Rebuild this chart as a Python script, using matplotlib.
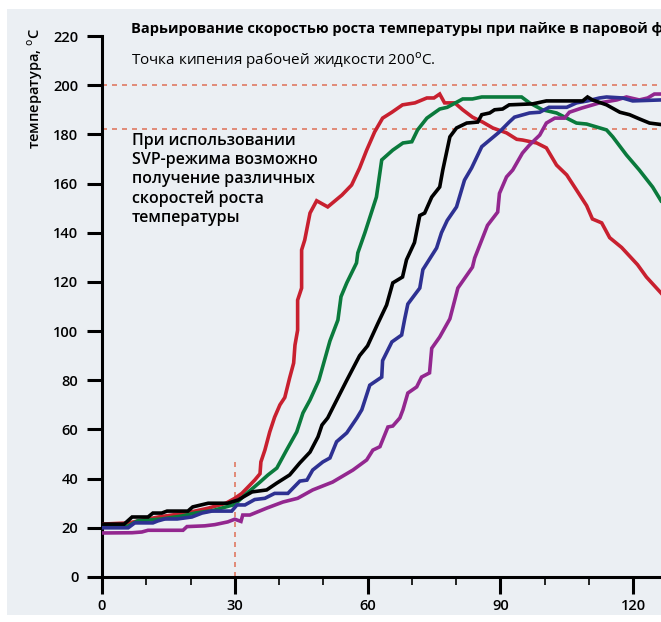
import matplotlib
matplotlib.use("Agg")
import matplotlib.pyplot as plt
from matplotlib.patches import Rectangle

plt.rcParams['font.family'] = ['Open Sans', 'DejaVu Sans']

# time, s / temperature, C
red_x = [0, 6, 13, 19, 24, 28, 30, 31.6, 33, 34.5, 35.7, 35.9, 36.8, 37.9, 39, 40.2, 41.3, 42.4, 43.3,
         43.6, 44.2, 44.2, 45.1, 45.1, 45.8, 47, 48.5, 51, 54.2, 56.4, 58.2, 59.8, 61.6, 63.4, 65.5,
         67.9, 70.7, 73.4, 75, 76.3, 77.4, 79.7, 81.5, 83.7, 86, 88.3, 91.4, 93.7, 95, 98.2, 100.4,
         102.7, 105, 107.2, 109.5, 110.8, 112.9, 114.7, 117.4, 121, 123, 126.3]
red_y = [21.5, 22, 24.5, 26, 28, 30, 32, 34, 36.6, 39.4, 42, 46.8, 51.6, 59, 65, 70, 73, 81, 87,
         94.3, 100.4, 112.6, 117.5, 133, 137, 148, 153, 150.5, 155.3, 159.4, 166.3, 173.6, 181, 186.6, 189,
         192, 192.8, 194.8, 194.8, 196.4, 192.8, 192.8, 190, 187, 185, 182.6, 180.6, 178, 177.7, 176.5, 174.5,
         167.5, 163.5, 157.4, 151, 145.6, 144, 138, 134, 127, 122, 115.5]

green_x = [0, 5.9, 8, 13.5, 18, 21, 25, 30, 32.7, 35.7, 37.5, 39.5, 41.7, 44, 45.4, 47, 49, 51.5,
           53.3, 54, 55.3, 57.5, 57.8, 59.4, 62, 63.2, 65.7, 68, 70, 71.3, 73.4, 76.3, 78, 81.5,
           83.7, 85.8, 94.8, 96.6, 99.5, 102.7, 105, 107.2, 109.5, 114, 115.4, 118.5, 121.4, 124.4, 126.3]
green_y = [20.3, 20.7, 22.8, 23.6, 24.8, 26, 27, 29.5, 34, 38.6, 41.5, 44.3, 51.6, 59, 66.7, 72, 80, 96,
           104.5, 114, 119.6, 127.7, 131.8, 140, 154.5, 169.6, 173.6, 176.5, 177, 181.8, 186.6, 190.3, 191, 194.4,
           194.4, 195.2, 195.2, 192.8, 190, 188.7, 186.6, 184.6, 184.2, 181.8, 179, 171.6, 165.5, 158.6, 153]

black_x = [0, 5, 6.8, 10.4, 11.5, 13.5, 14.7, 19.4, 20.5, 24, 28.4, 30.7, 33.9, 37.2, 39.5, 42.4,
           44.7, 47, 48.8, 49.7, 51, 52.2, 55.3, 58.2, 60, 62.3, 64.3, 65.7, 67.9, 68.8, 70.6, 71.8,
           72.9, 74.5, 76.3, 77, 78.6, 80.1, 82.4, 84.9, 85.8, 87.6, 88.7, 90.5, 92, 97.3, 100.4,
           108.6, 109.7, 110.8, 114, 117, 119.2, 121.4, 123.7, 126.3]
black_y = [21.5, 21.5, 24.4, 24.4, 26, 26, 26.8, 26.8, 28.5, 30, 30, 31.3, 34.6, 35.4, 38.2, 41.5,
           46.4, 50.8, 57, 61.8, 64.7, 69, 80, 90, 94, 103, 110.6, 119.6, 122, 129, 136, 147,
           148, 154.5, 158.6, 165.5, 179, 182.6, 184.6, 185, 188, 188.7, 190, 190.3, 192, 192.4, 193.6,
           193.6, 195.2, 194, 192, 189, 188, 186.3, 184.6, 184]

blue_x = [0, 5.9, 7.4, 11.5, 12.6, 14.2, 17, 20.3, 22.6, 24.8, 29.3, 30.5, 32.3, 34.5, 36.8, 39,
          42, 44.7, 46.3, 47.6, 49.9, 51.5, 53, 55.3, 57.6, 58.7, 60.5, 63.2, 63.4, 65.5, 67.7, 68.4,
          69.1, 71.8, 72.5, 75.6, 76.7, 78, 80.1, 81.9, 83.5, 85.8, 87.6, 89.8, 92, 93.2, 96.6,
          98.9, 101, 105, 107.2, 109.7, 112.4, 114, 117.6, 119.9, 126.3]
blue_y = [20, 20, 22, 22, 22.8, 23.6, 23.6, 24.4, 26, 26.8, 26.8, 29.3, 29.3, 31.5, 32, 34,
          34, 39, 39.4, 43.5, 46.8, 48.4, 55, 58.6, 64.7, 68, 78, 81.3, 88, 95.6, 98.4, 105,
          111, 117.5, 125, 133.8, 140, 145, 150.5, 161.4, 166.3, 175, 177.7, 181, 185, 187, 188.7,
          189, 191, 191, 192.8, 193.6, 194.8, 195.2, 194.8, 193.6, 194]

purple_x = [0, 6.8, 9, 10.4, 18.3, 19.2, 23.2, 25.5, 28.4, 30, 31.4, 31.8, 33.4, 37.2, 40.9, 44.2,
            47.6, 52.1, 56.7, 59.8, 61.2, 62.8, 64.6, 65.7, 67.3, 68, 69.1, 71.1, 72.2, 74, 74.5,
            76.3, 78.6, 79.7, 80.4, 83.7, 84.2, 87.1, 89.4, 89.8, 91.4, 92.8, 95, 96.6, 98.9, 100.4,
            102.3, 104.5, 105.6, 108.4, 112.4, 116.3, 118.5, 121.4, 123.3, 124.8, 126.3]
purple_y = [17.9, 18, 18.3, 19, 19, 20.5, 20.8, 21.3, 22.4, 23.5, 22.6, 25.2, 25.2, 28, 30.5, 32,
            35.4, 38.6, 43.5, 47.6, 51.6, 53, 61, 61.4, 64.7, 68, 74.8, 77.3, 81.3, 83, 93,
            97.6, 105, 112.6, 117.5, 126, 129.7, 143, 148.4, 156, 162.7, 165.5, 172.4, 175.7, 179.7, 184.6,
            186.6, 186.6, 189, 190.7, 192.8, 194, 195.2, 194, 194.8, 196.4, 196.4]

series = [(red_x, red_y, '#c8202f'), (green_x, green_y, '#0a7a3c'), (purple_x, purple_y, '#93278f'),
          (blue_x, blue_y, '#2e3192'), (black_x, black_y, '#000000')]

boil_levels = [200, 182]
preheat_end = 30
preheat_top = 48

title = 'Варьирование скоростью роста температуры при пайке в паровой фазе'
subtitle = 'Точка кипения рабочей жидкости 200$^{\\rm o}$С.'
note = 'При использовании\nSVP-режима возможно\nполучение различных\nскоростей роста\nтемпературы'

W, H = 661, 622
fig = plt.figure(figsize=(W / 100, H / 100), dpi=100)
fig.patches.append(Rectangle((7 / W, 7 / H), 1, 1 - 16 / H, transform=fig.transFigure,
                             facecolor='#ebeff3', edgecolor='none', zorder=-10))

ax = fig.add_axes([102 / W, 45 / H, 1 - 102 / W, 541 / H])
ax.patch.set_visible(False)

for lvl in boil_levels:
    ax.axhline(lvl, color='#e07a62', lw=1.2, ls=(0, (3, 3)), zorder=1)
ax.plot([preheat_end, preheat_end], [0, preheat_top], color='#e07a62', lw=1.2, ls=(0, (3, 3)), zorder=1)

for xs, ys, c in series:
    ax.plot(xs, ys, color=c, lw=2.6, solid_joinstyle='miter', zorder=3)

ax.set_xlim(0, 126.3)
ax.set_ylim(0, 220)
ax.set_xticks([0, 30, 60, 90, 120])
ax.set_xticks(range(0, 127, 10), minor=True)
ax.set_yticks(range(0, 221, 20))
ax.spines['top'].set_visible(False)
ax.spines['right'].set_visible(False)
ax.spines['left'].set_linewidth(2.2)
ax.spines['bottom'].set_linewidth(2.2)
ax.tick_params(axis='y', length=11, width=2.2, labelsize=10.5, pad=6)
ax.tick_params(axis='x', which='major', length=12, width=2.2, labelsize=10.5, pad=4)
ax.tick_params(axis='x', which='minor', length=6, width=1.2)
for lab in ax.get_xticklabels() + ax.get_yticklabels():
    lab.set_fontweight('semibold')

fig.text(35 / W, 1 - 28 / H, 'температура, $^{\\rm o}$С', rotation=90, ha='center', va='top',
         fontsize=10.5, fontweight='semibold')
# the title runs off the right edge in the original layout as well
fig.text(131 / W, 1 - 29 / H, title, fontsize=10.5, fontweight='bold', va='center', ha='left')
fig.text(131 / W, 1 - 61 / H, subtitle, fontsize=11, va='center', ha='left')
fig.text(132 / W, 1 - 133 / H, note, fontsize=11.5, fontweight='semibold', va='top', ha='left',
         linespacing=1.25)

fig.savefig('out.png', dpi=100)
